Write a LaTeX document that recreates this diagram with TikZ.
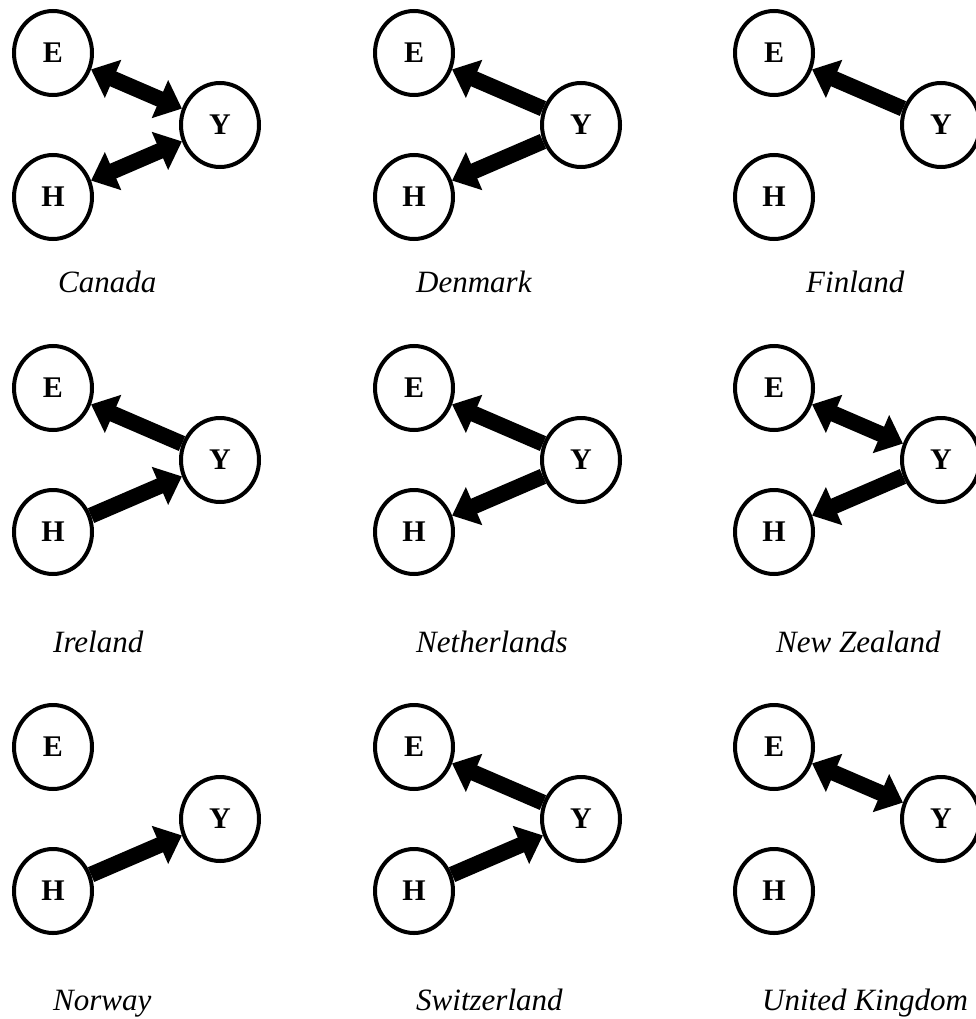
\documentclass[tikz,border=0pt]{standalone}
\usepackage{fontspec}
\setmainfont{Liberation Serif}
\usetikzlibrary{shapes.geometric,arrows.meta}
\tikzset{
  var/.style={ellipse, draw, line width=4pt, minimum width=78pt, minimum height=84pt, inner sep=0pt, font=\fontsize{30}{34}\selectfont\bfseries},
  lbl/.style={anchor=base west, inner sep=0pt, font=\fontsize{31}{35}\selectfont\itshape},
  oneway/.style={line width=16pt, -{Triangle[width=40pt,length=24pt]}},
  twoway/.style={line width=16pt, {Triangle[width=40pt,length=24pt]}-{Triangle[width=40pt,length=24pt]}}
}
\begin{document}
\begin{tikzpicture}[x=1pt,y=-1pt]
\useasboundingbox (0,0) rectangle (976,1019);
\clip (0,0) rectangle (976,1019);
% Canada
\begin{scope}[shift={(0,0)}]
\node[var] (E1) at (53,53) {E};
\node[var] (Y1) at (220,125) {Y};
\node[var] (H1) at (53,197) {H};
\draw[twoway] (E1) -- (Y1);
\draw[twoway] (H1) -- (Y1);
\end{scope}
\node[lbl] (L1) at (58,292) {Canada};
% Denmark
\begin{scope}[shift={(361,0)}]
\node[var] (E2) at (53,53) {E};
\node[var] (Y2) at (220,125) {Y};
\node[var] (H2) at (53,197) {H};
\draw[oneway] (Y2) -- (E2);
\draw[oneway] (Y2) -- (H2);
\end{scope}
\node[lbl] (L2) at (416,292) {Denmark};
% Finland
\begin{scope}[shift={(721,0)}]
\node[var] (E3) at (53,53) {E};
\node[var] (Y3) at (220,125) {Y};
\node[var] (H3) at (53,197) {H};
\draw[oneway] (Y3) -- (E3);
\end{scope}
\node[lbl] (L3) at (806,292) {Finland};
% Ireland
\begin{scope}[shift={(0,335)}]
\node[var] (E4) at (53,53) {E};
\node[var] (Y4) at (220,125) {Y};
\node[var] (H4) at (53,197) {H};
\draw[oneway] (Y4) -- (E4);
\draw[oneway] (H4) -- (Y4);
\end{scope}
\node[lbl] (L4) at (53,652) {Ireland};
% Netherlands
\begin{scope}[shift={(361,335)}]
\node[var] (E5) at (53,53) {E};
\node[var] (Y5) at (220,125) {Y};
\node[var] (H5) at (53,197) {H};
\draw[oneway] (Y5) -- (E5);
\draw[oneway] (Y5) -- (H5);
\end{scope}
\node[lbl] (L5) at (416,652) {Netherlands};
% New Zealand
\begin{scope}[shift={(721,335)}]
\node[var] (E6) at (53,53) {E};
\node[var] (Y6) at (220,125) {Y};
\node[var] (H6) at (53,197) {H};
\draw[twoway] (E6) -- (Y6);
\draw[oneway] (Y6) -- (H6);
\end{scope}
\node[lbl] (L6) at (776,652) {New Zealand};
% Norway
\begin{scope}[shift={(0,694)}]
\node[var] (E7) at (53,53) {E};
\node[var] (Y7) at (220,125) {Y};
\node[var] (H7) at (53,197) {H};
\draw[oneway] (H7) -- (Y7);
\end{scope}
\node[lbl] (L7) at (53,1010) {Norway};
% Switzerland
\begin{scope}[shift={(361,694)}]
\node[var] (E8) at (53,53) {E};
\node[var] (Y8) at (220,125) {Y};
\node[var] (H8) at (53,197) {H};
\draw[oneway] (Y8) -- (E8);
\draw[oneway] (H8) -- (Y8);
\end{scope}
\node[lbl] (L8) at (416,1010) {Switzerland};
% United Kingdom
\begin{scope}[shift={(721,694)}]
\node[var] (E9) at (53,53) {E};
\node[var] (Y9) at (220,125) {Y};
\node[var] (H9) at (53,197) {H};
\draw[twoway] (E9) -- (Y9);
\end{scope}
\node[lbl] (L9) at (762,1010) {United Kingdom};
\end{tikzpicture}
\end{document}
